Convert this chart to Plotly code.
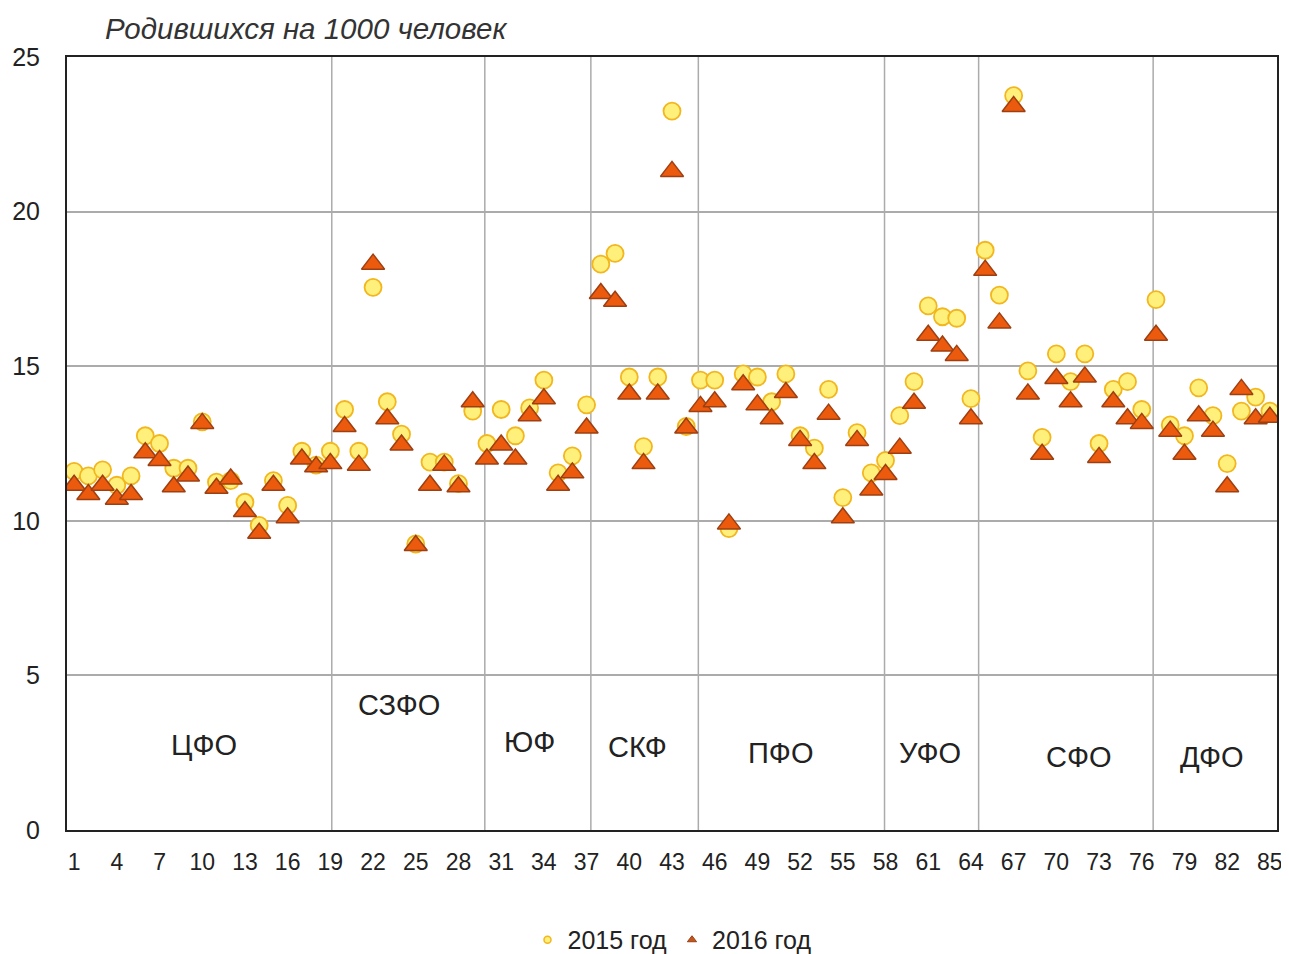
import plotly.graph_objects as go

# region number (1..85) and births per 1000 people
regions = list(range(1, 86))

births_2015 = [
    11.6, 11.45, 11.65, 11.15, 11.45, 12.75, 12.5, 11.7, 11.7, 13.2,
    11.25, 11.3, 10.6, 9.85, 11.3, 10.5, 12.25, 11.8, 12.25, 13.6,
    12.25, 17.55, 13.85, 12.8, 9.25, 11.9, 11.9, 11.2, 13.55, 12.5,
    13.6, 12.75, 13.65, 14.55, 11.55, 12.1, 13.75, 18.3, 18.65, 14.65,
    12.4, 14.65, 23.25, 13.05, 14.55, 14.55, 9.75, 14.75, 14.65, 13.85,
    14.75, 12.75, 12.35, 14.25, 10.75, 12.85, 11.55, 11.95, 13.4, 14.5,
    16.95, 16.6, 16.55, 13.95, 18.75, 17.3, 23.75, 14.85, 12.7, 15.4,
    14.5, 15.4, 12.5, 14.25, 14.5, 13.6, 17.15, 13.1, 12.75, 14.3,
    13.4, 11.85, 13.55, 14.0, 13.55,
]

births_2016 = [
    11.15, 10.85, 11.15, 10.7, 10.85, 12.2, 11.95, 11.1, 11.45, 13.15,
    11.05, 11.35, 10.3, 9.6, 11.15, 10.1, 12.0, 11.75, 11.85, 13.05,
    11.8, 18.3, 13.3, 12.45, 9.2, 11.15, 11.8, 11.1, 13.85, 12.0,
    12.45, 12.0, 13.4, 13.95, 11.15, 11.55, 13.0, 17.35, 17.1, 14.1,
    11.85, 14.1, 21.3, 13.0, 13.7, 13.85, 9.9, 14.4, 13.75, 13.3,
    14.15, 12.6, 11.85, 13.45, 10.1, 12.6, 11.0, 11.5, 12.35, 13.8,
    16.0, 15.65, 15.35, 13.3, 18.1, 16.4, 23.4, 14.1, 12.15, 14.6,
    13.85, 14.65, 12.05, 13.85, 13.3, 13.15, 16.0, 12.9, 12.15, 13.4,
    12.9, 11.1, 14.25, 13.3, 13.35,
]

# federal district labels and divider lines (x in region units)
district_names = ["ЦФО", "СЗФО", "ЮФ", "СКФ", "ПФО", "УФО", "СФО", "ДФО"]
district_label_x = [10.1, 23.85, 33.0, 40.6, 50.6, 61.1, 71.6, 80.95]
district_label_y = [2.75, 4.05, 2.85, 2.68, 2.49, 2.49, 2.36, 2.36]
divider_x = [19.1, 29.85, 37.3, 44.85, 57.93, 64.54, 76.8]

tick_vals = list(range(1, 86, 3))

FONT = "Liberation Sans, Arial"
GRID = "#ABABAB"

fig = go.Figure()

fig.add_trace(go.Scatter(
    x=regions, y=births_2015, mode="markers", name="2015 год", showlegend=False,
    marker=dict(symbol="circle", size=17, color="#FFF07C",
                line=dict(color="#F2B61E", width=1.8)),
))
fig.add_trace(go.Scatter(
    x=regions, y=births_2016, mode="markers", name="2016 год", showlegend=False,
    marker=dict(symbol="triangle-up", size=20, color="#EC5A0E",
                line=dict(color="#9C3F12", width=1.5)),
))

# small legend markers, as in the original
fig.add_trace(go.Scatter(
    x=[None], y=[None], mode="markers", name="2015 год",
    marker=dict(symbol="circle", size=7, color="#FFF07C",
                line=dict(color="#F2B61E", width=1.5)),
))
fig.add_trace(go.Scatter(
    x=[None], y=[None], mode="markers", name="2016 год",
    marker=dict(symbol="triangle-up", size=8, color="#C0581E",
                line=dict(color="#9C3F12", width=1)),
))

for xv in divider_x:
    fig.add_shape(type="line", xref="x", yref="y", x0=xv, x1=xv, y0=0, y1=25,
                  line=dict(color=GRID, width=1.5), layer="below")

for name, lx, ly in zip(district_names, district_label_x, district_label_y):
    fig.add_annotation(x=lx, y=ly, text=name, showarrow=False,
                       font=dict(size=29, color="#222222", family=FONT))

fig.add_annotation(
    xref="paper", yref="paper", x=0.03, y=1.0375, xanchor="left", yanchor="middle",
    text="<i>Родившихся на 1000 человек</i>", showarrow=False,
    font=dict(size=29.5, color="#333333", family=FONT),
)

fig.update_xaxes(
    range=[0.5, 85.5], tickmode="array", tickvals=tick_vals, automargin=False,
    showgrid=False, zeroline=False, showline=True, linecolor="#222222", linewidth=2,
    mirror=True, ticks="", ticklabelstandoff=10,
    tickfont=dict(size=23, color="#222222", family=FONT),
)
fig.update_yaxes(
    range=[0, 25], tickvals=[0, 5, 10, 15, 20, 25], automargin=False,
    showgrid=True, gridcolor=GRID, gridwidth=1.5, zeroline=False,
    showline=True, linecolor="#222222", linewidth=2, mirror=True,
    ticks="", ticklabelstandoff=20,
    tickfont=dict(size=25, color="#222222", family=FONT),
)

# the page puts the figure 8 px in from the top-left corner; the extra
# height below the window keeps the legend from squeezing the plot area
fig.update_layout(
    width=1289, height=980,
    margin=dict(l=59, r=20, t=49, b=158),
    paper_bgcolor="white", plot_bgcolor="white",
    legend=dict(orientation="h", x=0.5, xanchor="center", y=-0.1423, yanchor="middle",
                font=dict(size=25, color="#222222", family=FONT),
                itemwidth=30, tracegroupgap=0),
)

fig.write_html("out.html")
